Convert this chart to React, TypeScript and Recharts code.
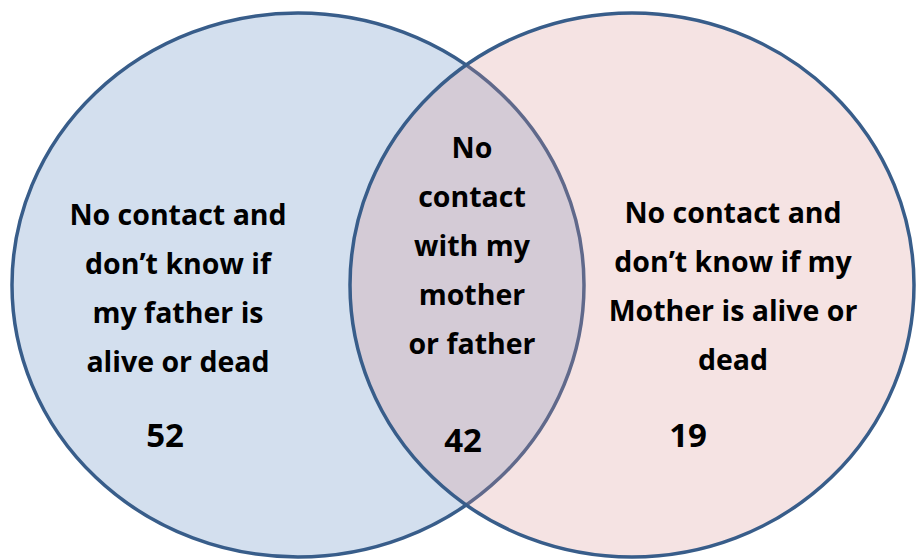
import React from "react";
import { ScatterChart, Scatter, XAxis, YAxis } from "recharts";

// Venn regions: left only, overlap, right only
const regionNames = ["father", "both", "mother"];
const regionLines = [
  ["No contact and", "don\u2019t know if", "my father is", "alive or dead"],
  ["No", "contact", "with my", "mother", "or father"],
  ["No contact and", "don\u2019t know if my", "Mother is alive or", "dead"],
];
const regionCounts = [52, 42, 19];

const setNames = ["Father", "Mother"];

// layout in pixel units (axis domain == chart size)
const W = 916;
const H = 559;
const circleCenters = [
  { x: 298, y: 285, rx: 286 },
  { x: 632, y: 285, rx: 282 },
];
const RY = 272;
const labelAnchors = [
  { x: 178, y: 225, nx: 165, ny: 447 },
  { x: 472, y: 158, nx: 463, ny: 452 },
  { x: 733, y: 223, nx: 688, ny: 447 },
];

const circleData = setNames.map((name, i) => ({
  name,
  x: circleCenters[i].x,
  y: circleCenters[i].y,
  idx: i,
}));

const labelData = regionNames.map((name, i) => ({
  name,
  x: labelAnchors[i].x,
  y: labelAnchors[i].y,
  lines: regionLines[i],
  count: regionCounts[i],
  dx: labelAnchors[i].nx - labelAnchors[i].x,
  dy: labelAnchors[i].ny - labelAnchors[i].y,
}));

const FONT = "'Open Sans', Lato, sans-serif";

const CircleShape = (props: any) => {
  const { cx, cy, payload } = props;
  const left = payload.idx === 0;
  return (
    <ellipse
      cx={cx}
      cy={cy}
      rx={circleCenters[payload.idx].rx}
      ry={RY}
      fill={left ? "#d3dfee" : "rgba(215,143,143,0.25)"}
      stroke="#385d8a"
      strokeWidth={3.5}
    />
  );
};

const LabelShape = (props: any) => {
  const { cx, cy, payload } = props;
  return (
    <g>
      <text
        x={cx}
        y={cy}
        textAnchor="middle"
        fontFamily={FONT}
        fontWeight={700}
        fontSize={28.5}
        fill="#000"
      >
        {payload.lines.map((l: string, i: number) => (
          <tspan key={i} x={cx} y={cy + i * 49}>
            {l}
          </tspan>
        ))}
      </text>
      <text
        x={cx + payload.dx}
        y={cy + payload.dy}
        textAnchor="middle"
        fontFamily={FONT}
        fontWeight={700}
        fontSize={33}
        fill="#000"
      >
        {payload.count}
      </text>
    </g>
  );
};

export default function App() {
  return (
    <div style={{ position: "absolute", left: 0, top: 0, background: "#fff" }}>
      <ScatterChart width={W} height={H} margin={{ top: 0, right: 0, bottom: 0, left: 0 }}>
        <XAxis type="number" dataKey="x" domain={[0, W]} hide />
        <YAxis type="number" dataKey="y" domain={[0, H]} reversed hide />
        <Scatter data={circleData} shape={<CircleShape />} isAnimationActive={false} />
        <Scatter data={labelData} shape={<LabelShape />} isAnimationActive={false} />
      </ScatterChart>
    </div>
  );
}
